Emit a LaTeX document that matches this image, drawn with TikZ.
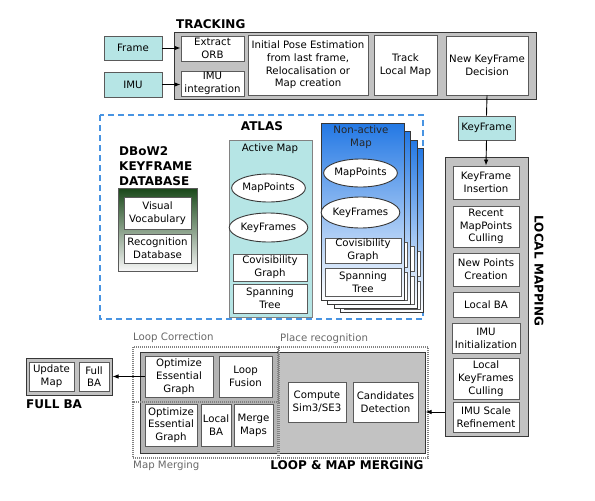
\documentclass[tikz,border=0pt]{standalone}
\usepackage{fontspec}
\setmainfont{DejaVu Sans}
\usetikzlibrary{arrows.meta,shapes.geometric}
\definecolor{cyanf}{RGB}{182,229,229}
\definecolor{grayf}{RGB}{194,194,194}
\definecolor{grayd}{RGB}{180,180,180}
\definecolor{darkb}{RGB}{55,55,55}
\definecolor{midb}{RGB}{90,90,90}
\definecolor{nblue}{RGB}{35,120,228}
\definecolor{dgreen}{RGB}{25,72,25}
\definecolor{atlasb}{RGB}{72,148,226}
\definecolor{dotg}{RGB}{130,130,130}
\newcommand\mytxt{\fontsize{10.2}{12.7}\selectfont}
\newcommand\myttl{\fontsize{12}{15}\selectfont\bfseries}
\newcommand\bx[7]{\node[#1, minimum width={(#5)-(#3)}, minimum height={(#6)-(#4)}] (#2) at ({((#3)+(#5))/2},{((#4)+(#6))/2}) {#7};}
\tikzset{
  base/.style={draw=midb, line width=0.9pt, align=center, inner sep=1pt, font=\mytxt},
  wbox/.style={base, fill=white},
  cbox/.style={base, fill=cyanf},
  gbox/.style={draw=darkb, line width=1pt, fill=grayf, inner sep=0pt},
  ell/.style={ellipse, draw=darkb, fill=white, line width=0.9pt, font=\mytxt, inner sep=0pt},
  ttl/.style={font=\myttl, inner sep=0pt},
  sublbl/.style={font=\mytxt, text=dotg!80!black, inner sep=0pt},
  dotbox/.style={draw=dotg, line width=1.1pt, dash pattern=on 1pt off 1pt},
  arr/.style={-{Latex[length=6pt,width=4.5pt]}, line width=0.9pt, draw=black},
  plain/.style={line width=0.9pt, draw=black}
}
\begin{document}
\begin{tikzpicture}[x=1pt,y=-1pt]
\useasboundingbox (0,0) rectangle (595,501);
% ---------------- TRACKING
\node[ttl, anchor=west] (trklbl) at (176,24) {TRACKING};
\bx{gbox}{track}{174}{32}{536}{99}{}
\bx{cbox}{frame}{104}{36}{162}{60}{Frame}
\bx{cbox}{imu}{104}{72}{162}{97}{IMU}
\bx{wbox}{orb}{181}{36}{244}{61}{Extract\\ORB}
\bx{wbox}{imui}{181}{71}{244}{96}{IMU\\integration}
\bx{wbox}{ipe}{248}{35}{368}{95}{Initial Pose Estimation\\from last frame,\\Relocalisation or\\Map creation}
\bx{wbox}{tlm}{374}{35}{437}{95}{Track\\Local Map}
\bx{wbox}{nkfd}{446}{36}{528}{95}{New KeyFrame\\Decision}
\draw[arr] (frame.east) -- (frame.east -| orb.west);
\draw[arr] (imu.east) -- (imu.east -| imui.west);
% ---------------- KeyFrame + LOCAL MAPPING
\bx{cbox}{kf}{458}{116}{515}{140}{KeyFrame}
\bx{gbox}{lm}{445}{157}{528}{436}{}
\node[ttl, rotate=-90] (lmlbl) at (539,271) {LOCAL MAPPING};
\bx{wbox}{kfi}{453}{166}{519}{199}{KeyFrame\\Insertion}
\bx{wbox}{rmc}{453}{206}{519}{247}{Recent\\MapPoints\\Culling}
\bx{wbox}{npc}{453}{253}{519}{286}{New Points\\Creation}
\bx{wbox}{lba}{453}{292}{519}{317}{Local BA}
\bx{wbox}{imuinit}{452}{323}{520}{353}{IMU\\Initialization}
\bx{wbox}{lkc}{453}{358}{519}{399}{Local\\KeyFrames\\Culling}
\bx{wbox}{isr}{453}{402}{519}{432}{IMU Scale\\Refinement}
\draw[plain] (nkfd.south) -- (kf.north);
\draw[arr] (kf.south) -- (kfi.north);
% ---------------- ATLAS
\draw[atlasb, line width=2pt, dash pattern=on 6pt off 4pt] (100,115) rectangle (423,319);
\node[ttl] (atlaslbl) at (262,126) {ATLAS};
\node[ttl, anchor=west, align=left] (dbowlbl) at (119,166) {DBoW2\\KEYFRAME\\DATABASE};
\bx{draw=midb, line width=0.9pt, top color=dgreen, bottom color=white!94!gray, inner sep=0pt}{dbow}{118}{188}{197}{271}{}
\bx{wbox}{vv}{124}{197}{191}{229}{Visual\\Vocabulary}
\bx{wbox}{rd}{124}{234}{191}{263}{Recognition\\Database}
% active map
\bx{draw=dotg, line width=1pt, fill=cyanf, inner sep=0pt}{active}{229}{140}{312}{317}{}
\node[font=\mytxt, inner sep=0pt] (amlbl) at (270,149) {Active Map};
\node[ell, minimum width=71, minimum height=28] (amp) at (268.5,188) {MapPoints};
\node[ell, minimum width=71, minimum height=29] (akf) at (268.5,227.5) {KeyFrames};
\bx{wbox}{acg}{233}{254}{307}{281}{Covisibility\\Graph}
\bx{wbox}{ast}{233}{284}{307}{313}{Spanning\\Tree}
% non-active maps (stack)
\foreach \i in {3,2,1}{
  \shadedraw[draw=darkb, line width=0.9pt, top color=nblue, middle color=nblue!55!white, bottom color=white]
    ({321+6.5*\i},{123+8.5*\i}) rectangle ({404+6.5*\i},{300+4.3*\i});
  \draw[draw=midb, line width=0.9pt, fill=white] ({325+6.5*\i},{238+4.4*\i}) rectangle ({401+6.5*\i},{263+4.4*\i});
  \draw[draw=midb, line width=0.9pt, fill=white] ({325+6.5*\i},{268+4.4*\i}) rectangle ({401+6.5*\i},{296+4.4*\i});
}
\bx{draw=darkb, line width=0.9pt, top color=nblue, middle color=nblue!55!white, bottom color=white, inner sep=0pt}{nonactive}{321}{123}{404}{300}{}
\node[font=\mytxt, align=center, inner sep=0pt, text=black!85] (nalbl) at (361,137) {Non-active\\Map};
\node[ell, minimum width=71, minimum height=28] (nmp) at (360.5,173) {MapPoints};
\node[ell, minimum width=71, minimum height=31] (nkf) at (360.5,212.5) {KeyFrames};
\bx{wbox}{ncg}{325}{238}{401}{263}{Covisibility\\Graph}
\bx{wbox}{nst}{325}{268}{401}{296}{Spanning\\Tree}
% ---------------- LOOP & MAP MERGING
\bx{gbox}{lmm}{140}{352}{425}{453}{}
\fill[grayd] (140.5,352.5) rectangle (278,452.5);
\draw[dotbox] (133,347) rectangle (279,402);
\draw[dotbox] (133,402) rectangle (279,458);
\draw[dotbox] (278,347) rectangle (428,458);
\node[sublbl, anchor=west] (lclbl) at (133,338) {Loop Correction};
\node[sublbl, anchor=west] (mmlbl) at (133,466) {Map Merging};
\node[sublbl, anchor=west] (prlbl) at (280,339) {Place recognition};
\node[ttl] (lmmlbl) at (347,465) {LOOP \& MAP MERGING};
\bx{wbox}{oeg1}{145}{356}{213}{397}{Optimize\\Essential\\Graph}
\bx{wbox}{lf}{219}{356}{272}{397}{Loop\\Fusion}
\bx{wbox}{oeg2}{145}{404}{197}{446}{Optimize\\Essential\\Graph}
\bx{wbox}{lba2}{201}{404}{231}{446}{Local\\BA}
\bx{wbox}{mmp}{234}{404}{273}{446}{Merge\\Maps}
\bx{wbox}{cs}{288}{382}{346}{422}{Compute\\Sim3/SE3}
\bx{wbox}{cd}{353}{382}{418}{422}{Candidates\\Detection}
% ---------------- FULL BA
\bx{gbox}{fba}{26}{358}{112}{395}{}
\bx{wbox}{um}{29}{362}{74}{391}{Update\\Map}
\bx{wbox}{fullba}{79}{362}{109}{391}{Full\\BA}
\node[ttl, anchor=west] (fbalbl) at (26,404) {FULL BA};
% connectors
\coordinate (lmout) at (445,412);
\draw[arr] (lmout) -- (lmout -| lmm.east);
\draw[arr] (oeg1.west) -- (oeg1.west -| fba.east);
\end{tikzpicture}
\end{document}
